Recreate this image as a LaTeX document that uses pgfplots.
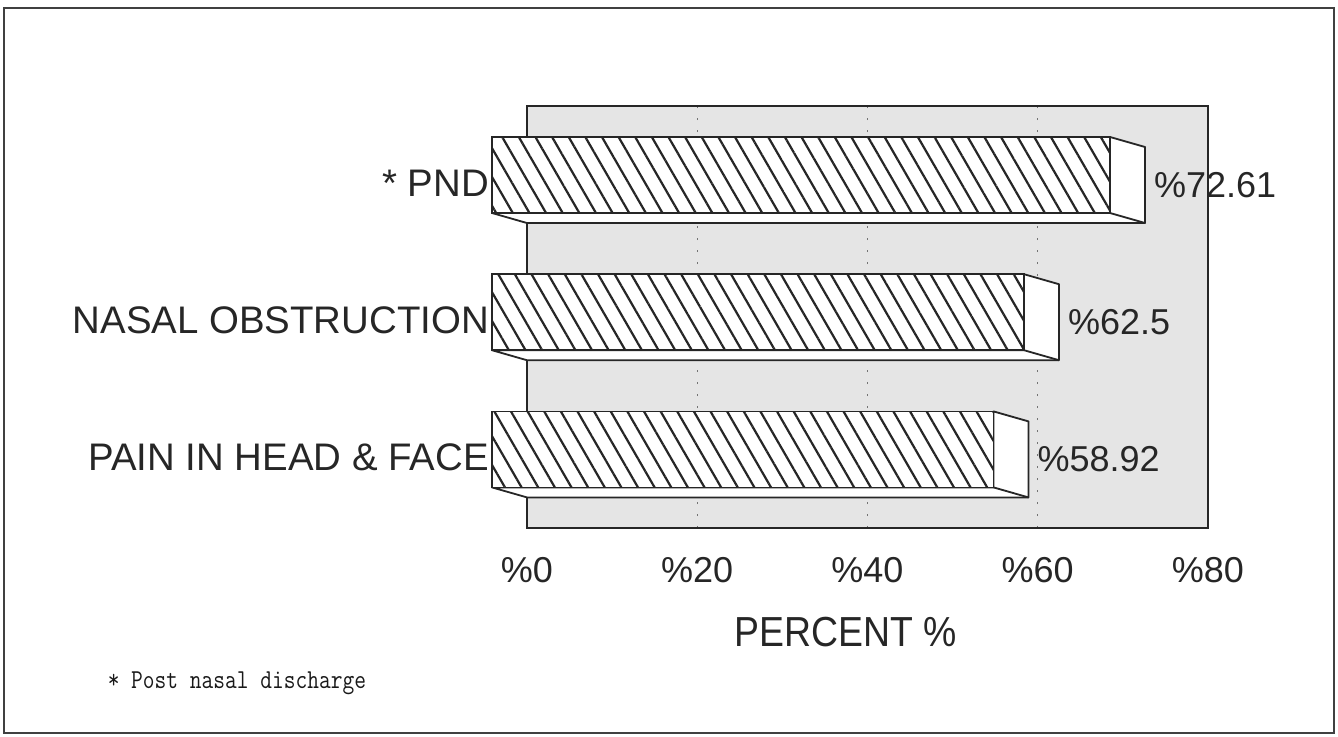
\documentclass[border=0pt]{standalone}
\usepackage{pgfplots}
\pgfplotsset{compat=1.18}
\usepackage{fontspec}
\setmainfont{Liberation Sans}
\usetikzlibrary{patterns.meta}
\begin{document}
\begin{tikzpicture}
\begin{axis}[
  at={(0pt,0pt)}, anchor=south west,
  scale only axis, width=340.5pt, height=211pt,
  xmin=0, xmax=80, ymin=-0.5, ymax=2.576,
  clip=false,
  axis background/.style={fill=black!10},
  axis line style={black!85, line width=0.9pt},
  xtick={0,20,40,60,80},
  xticklabels={\%0,\%20,\%40,\%60,\%80},
  ytick={0,1,2},
  yticklabels={PAIN IN HEAD \& FACE, NASAL OBSTRUCTION, * PND},
  major tick length=0pt,
  tick style={draw=none},
  xmajorgrids,
  major grid style={black!55, line width=0.6pt, dash pattern=on 1pt off 5pt},
  xticklabel style={font=\fontsize{18}{20}\selectfont, text=black!85, yshift=-11pt},
  yticklabel style={font=\fontsize{19.2}{22}\selectfont, text=black!85, xshift=-15.5pt, yshift=1pt},
  xlabel={\scalebox{0.89}[1]{PERCENT \%}},
  xlabel style={at={(rel axis cs:0.468,0)}, anchor=north, yshift=-41pt, font=\fontsize{21}{24}\selectfont, text=black!85},
]
% side and bottom faces (back plane coordinates)
\addplot[fill=white, draw=black!85, line width=0.9pt, line join=round]
  coordinates {(-4.112,1.796) (0,1.723) (72.61,1.723) (72.61,2.277) (68.498,2.350) (68.498,1.796)} -- cycle;
\addplot[draw=black!85, line width=0.9pt] coordinates {(68.498,1.796) (72.61,1.723)};
\addplot[fill=white, draw=black!85, line width=0.9pt, line join=round]
  coordinates {(-4.112,0.796) (0,0.723) (62.5,0.723) (62.5,1.277) (58.388,1.350) (58.388,0.796)} -- cycle;
\addplot[draw=black!85, line width=0.9pt] coordinates {(58.388,0.796) (62.5,0.723)};
\addplot[fill=white, draw=black!85, line width=0.9pt, line join=round]
  coordinates {(-4.112,-0.204) (0,-0.277) (58.92,-0.277) (58.92,0.277) (54.808,0.350) (54.808,-0.204)} -- cycle;
\addplot[draw=black!85, line width=0.9pt] coordinates {(54.808,-0.204) (58.92,-0.277)};
% front faces
\addplot[xbar, bar width=0.554, fill=white, draw=none, xshift=-17.5pt, yshift=5pt]
  coordinates {(72.61,2) (62.5,1) (58.92,0)};
\addplot[xbar, bar width=0.554, draw=black!85, line width=0.9pt,
  pattern={Lines[angle=-60,distance=7.2pt,line width=1.1pt]}, pattern color=black!85,
  xshift=-17.5pt, yshift=5pt]
  coordinates {(72.61,2) (62.5,1) (58.92,0)};
% value labels
\addplot[xbar, bar width=0.554, draw=none, fill=none, point meta=explicit symbolic,
  nodes near coords={\%\pgfplotspointmeta},
  nodes near coords style={anchor=west, font=\fontsize{18}{20}\selectfont, text=black!85, xshift=1pt}]
  coordinates {(72.61,2)[72.61] (62.5,1)[62.5] (58.92,0)[58.92]};
\node[anchor=west, font=\ttfamily\fontsize{11.4}{13}\selectfont, text=black!90]
  at (rel axis cs:-0.626,-0.367) {\scalebox{1}[1.2]{* Post nasal discharge}};
\end{axis}
\draw[black!75, line width=1.1pt] (-261.5pt,-102.5pt) rectangle (403.5pt,260pt);
\path (-263.5pt,-104pt) rectangle (405.5pt,264pt);
\end{tikzpicture}
\end{document}
